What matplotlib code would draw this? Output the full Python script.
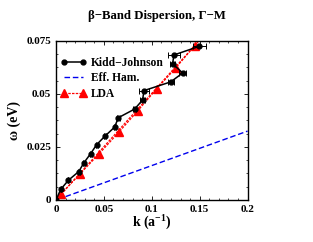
import matplotlib
matplotlib.use("Agg")
import matplotlib.pyplot as plt
from matplotlib.ticker import MultipleLocator

plt.rcParams['font.family'] = ['Liberation Serif', 'DejaVu Serif']
plt.rcParams['font.weight'] = 'bold'
plt.rcParams['mathtext.fontset'] = 'custom'
plt.rcParams['mathtext.rm'] = 'Liberation Serif:bold'
plt.rcParams['mathtext.it'] = 'Liberation Serif:bold'
plt.rcParams['mathtext.bf'] = 'Liberation Serif:bold'

# Kidd-Johnson data
kj_k = [0.0, 0.0049, 0.0129, 0.0237, 0.0292, 0.0362, 0.0424, 0.0508, 0.0612, 0.065,
        0.0821, 0.0904, 0.0918, 0.1197, 0.1322, 0.1217, 0.1231, 0.1496]
kj_w = [0.0, 0.0050, 0.0093, 0.0134, 0.0176, 0.0219, 0.0261, 0.0300, 0.0344, 0.0388,
        0.0429, 0.0472, 0.0516, 0.0557, 0.0599, 0.0643, 0.0684, 0.0725]
kj_err = [0.0, 0.0, 0.0, 0.001, 0.001, 0.001, 0.001, 0.001, 0.001, 0.0015,
          0.0015, 0.003, 0.005, 0.003, 0.004, 0.003, 0.006, 0.007]

# Effective Hamiltonian line
eff_k = [0.01, 0.2]
eff_w = [0.0016, 0.0325]

# LDA
lda_k = [0.0049, 0.025, 0.0452, 0.0654, 0.0852, 0.105, 0.1252, 0.1447]
lda_w = [0.0027, 0.0123, 0.0219, 0.0319, 0.0420, 0.0524, 0.0624, 0.0728]
lda_line_k = [0.0, 0.156]
lda_line_w = [0.0, 0.0785]

fig = plt.figure(figsize=(3.13, 2.42), dpi=100)
ax = fig.add_axes([0.179, 0.1736, 0.612, 0.657])

ax.errorbar(kj_k[1:], kj_w[1:], xerr=kj_err[1:], fmt='none', ecolor='black',
            elinewidth=0.7, capsize=2, capthick=0.7, zorder=3)
h_kj, = ax.plot(kj_k, kj_w, color='black', marker='o', markersize=3.5, lw=1.1,
                label='Kidd\u2212Johnson', zorder=4)
h_eff, = ax.plot(eff_k, eff_w, color='#0000ee', ls=(0, (4, 2)), lw=1.0, label='Eff. Ham.')
ax.plot(lda_line_k, lda_line_w, color='red', ls=(0, (2, 1)), lw=0.9)
h_lda, = ax.plot(lda_k, lda_w, color='red', ls=(0, (2, 1)), lw=0.9, marker='^',
                 markersize=5.5, label='LDA')

ax.set_xlim(0, 0.2)
ax.set_ylim(0, 0.075)
ax.set_xticks([0, 0.05, 0.1, 0.15, 0.2])
ax.set_xticklabels(['0', '0.05', '0.1', '0.15', '0.2'])
ax.set_yticks([0, 0.025, 0.05, 0.075])
ax.set_yticklabels(['0', '0.025', '0.05', '0.075'])
ax.xaxis.set_minor_locator(MultipleLocator(0.01))
ax.yaxis.set_minor_locator(MultipleLocator(0.00625))
ax.tick_params(which='both', direction='in', top=True, right=True, labelsize=8)
ax.tick_params(which='major', length=3, width=0.6)
ax.tick_params(which='minor', length=1.5, width=0.5)
for s in ax.spines.values():
    s.set_linewidth(1.0)

ax.set_xlabel('k (a$^{-1}$)', fontsize=10, fontweight='bold', labelpad=0)
ax.set_ylabel('\u03c9 (eV)', fontsize=10, fontweight='bold', labelpad=4)
fig.text(0.5, 0.935, '\u03b2\u2212Band Dispersion, \u0393\u2212M', ha='center', va='center',
         fontsize=9.2, fontweight='bold')

leg = ax.legend([h_kj, h_eff, h_lda], ['Kidd\u2212Johnson', 'Eff. Ham.', 'LDA'],
                loc='upper left', bbox_to_anchor=(0.0, 0.93), frameon=False,
                fontsize=8.3, numpoints=2, handlelength=2.2, handletextpad=0.45,
                labelspacing=0.3, borderaxespad=0.2, borderpad=0.2)
leg.set_zorder(10)
for t in leg.get_texts():
    t.set_fontweight('bold')

fig.savefig('out.png', dpi=100)
